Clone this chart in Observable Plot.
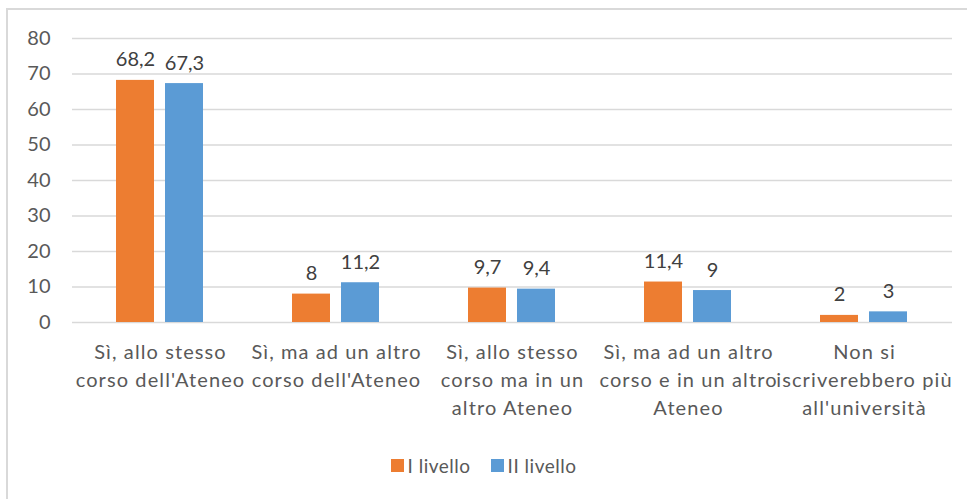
<!DOCTYPE html>
<html>
<head>
<meta charset="utf-8">
<script src="https://cdn.jsdelivr.net/npm/d3@7"></script>
<script src="https://cdn.jsdelivr.net/npm/@observablehq/plot@0.6"></script>
<style>
  html, body { margin: 0; padding: 0; background: #fff; }
  #wrap { position: relative; width: 967px; height: 499px; overflow: hidden; font-family: Lato, "Open Sans", sans-serif; }
  #frame { position: absolute; left: 6px; top: 8px; width: 1000px; height: 600px; border-left: 2px solid #d9d9d9; border-top: 2px solid #d9d9d9; }
  #chart { position: absolute; left: 0; top: 0; }
  #chart g[aria-label="fx-axis tick label"] text { letter-spacing: 1.1px; }
  #legend { position: absolute; top: 454px; left: 0; width: 967px; display: flex; justify-content: center; gap: 20px; font-size: 19px; color: #595959; letter-spacing: 0.5px; }
  #legend .item { display: flex; align-items: center; gap: 4px; }
  #legend .sw { width: 13px; height: 13px; display: inline-block; }
</style>
</head>
<body>
<div id="wrap">
  <div id="frame"></div>
  <div id="chart"></div>
  <div id="legend"></div>
</div>
<script>
const categories = [
  "Sì, allo stesso\ncorso dell'Ateneo",
  "Sì, ma ad un altro\ncorso dell'Ateneo",
  "Sì, allo stesso\ncorso ma in un\naltro Ateneo",
  "Sì, ma ad un altro\ncorso e in un altro\nAteneo",
  "Non si\niscriverebbero più\nall'università"
];
const seriesNames = ["I livello", "II livello"];
const valuesI = [68.2, 8, 9.7, 11.4, 2];
const valuesII = [67.3, 11.2, 9.4, 9, 3];
const colors = ["#ED7D31", "#5B9BD5"];
const yTicks = [0, 10, 20, 30, 40, 50, 60, 70, 80];

const data = [];
categories.forEach((c, i) => {
  data.push({cat: c, series: seriesNames[0], value: valuesI[i]});
  data.push({cat: c, series: seriesNames[1], value: valuesII[i]});
});
const fmt = v => String(v).replace(".", ",");
const FONT = "Lato, 'Open Sans', sans-serif";

const chart = Plot.plot({
  width: 967,
  height: 440,
  marginTop: 38,
  marginBottom: 118,
  marginLeft: 70,
  marginRight: 14,
  style: {fontFamily: FONT, fontSize: "20px", color: "#595959", background: "transparent"},
  fx: {domain: categories, padding: 0, label: null},
  x: {domain: seriesNames, paddingInner: 0.22, paddingOuter: 0.876, axis: null},
  y: {domain: [0, 80], ticks: yTicks, label: null},
  color: {domain: seriesNames, range: colors},
  marks: [
    Plot.gridY(yTicks, {stroke: "#d9d9d9", strokeOpacity: 1, strokeWidth: 1.5}),
    Plot.axisY(yTicks, {tickSize: 0, tickPadding: 22, fontSize: 20, fill: "#595959", label: null}),
    Plot.axisFx({anchor: "bottom", tickSize: 0, tickPadding: 17, fontSize: 20, lineHeight: 1.4, fill: "#595959", label: null}),
    Plot.barY(data, {fx: "cat", x: "series", y: "value", fill: "series"}),
    Plot.text(data, {fx: "cat", x: "series", y: "value", text: d => fmt(d.value), lineAnchor: "bottom", dy: -14, fontSize: 20, fill: "#404040"})
  ]
});
document.getElementById("chart").appendChild(chart);

const legend = document.getElementById("legend");
seriesNames.forEach((s, i) => {
  const item = document.createElement("div");
  item.className = "item";
  const sw = document.createElement("span");
  sw.className = "sw";
  sw.style.background = colors[i];
  const t = document.createElement("span");
  t.textContent = s;
  item.appendChild(sw);
  item.appendChild(t);
  legend.appendChild(item);
});
</script>
</body>
</html>
